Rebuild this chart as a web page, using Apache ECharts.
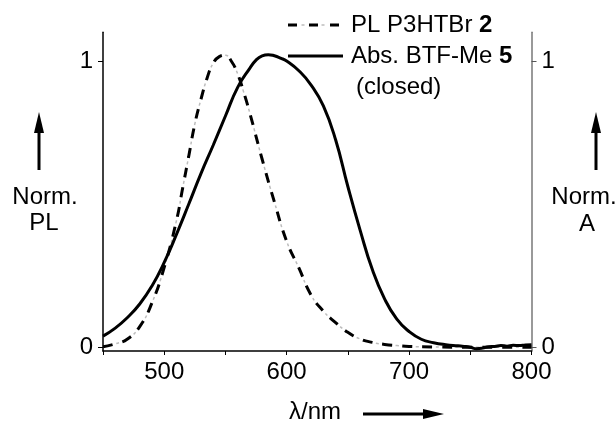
<!DOCTYPE html>
<html>
<head>
<meta charset="utf-8">
<script src="https://cdn.jsdelivr.net/npm/echarts@6/dist/echarts.min.js"></script>
<style>
html,body{margin:0;padding:0;background:#fff;}
#c{width:616px;height:423px;}
</style>
</head>
<body>
<div id="c"></div>
<script>
// Absorption of BTF-Me 5 (closed), normalized
const absWavelength = [450,460,470,480,490,500,510,520,530,540,550,560,570,575,580,585,590,595,600,610,620,630,640,650,660,670,680,690,700,710,720,730,740,745,750,755,760,765,770,775,780,785,790,795,800];
const absValues     = [0.040,0.068,0.105,0.152,0.215,0.297,0.395,0.500,0.607,0.706,0.808,0.908,0.975,1.003,1.018,1.022,1.018,1.010,1.000,0.966,0.916,0.843,0.725,0.562,0.410,0.272,0.170,0.099,0.056,0.029,0.017,0.010,0.006,0.004,0.001,-0.004,-0.002,0.003,0.004,0.007,0.005,0.008,0.007,0.009,0.010];
// PL of P3HTBr 2, normalized
const plWavelength  = [450,460,470,480,490,500,510,515,520,525,530,535,540,545,550,555,560,565,570,580,590,600,610,620,630,640,650,660,670,680,690,700,720,750,800];
const plValues      = [0.003,0.013,0.030,0.073,0.156,0.280,0.443,0.555,0.667,0.780,0.866,0.940,0.992,1.015,1.020,0.998,0.955,0.890,0.817,0.657,0.508,0.371,0.278,0.183,0.127,0.087,0.053,0.030,0.018,0.011,0.007,0.004,0.002,0.001,0.001];
const xTickLabels = [500,600,700,800];
const yTickValues = [0,1];

const absData = absWavelength.map((w,i)=>[w,absValues[i]]);
const plData  = plWavelength.map((w,i)=>[w,plValues[i]]);

const FONT = "'Liberation Sans', Arial, sans-serif";
const chart = echarts.init(document.getElementById('c'), null, {renderer:'canvas'});

const yCommon = {
  type:'value', min:-0.012, max:1.1,
  splitLine:{show:false},
  axisLine:{show:true, onZero:false},
  axisTick:{show:true, inside:false, length:5, customValues:yTickValues},
  axisLabel:{show:true, customValues:yTickValues, fontSize:24, color:'#000', fontFamily:FONT, margin:10}
};

chart.setOption({
  animation:false,
  backgroundColor:'#fff',
  grid:{left:103, right:84.5, top:32.3, bottom:72, containLabel:false},
  xAxis:{
    type:'value', min:450, max:800, interval:50,
    splitLine:{show:false},
    axisLine:{onZero:false, lineStyle:{color:'#000', width:1.5}},
    axisTick:{inside:false, length:4, lineStyle:{color:'#000', width:1}},
    axisLabel:{fontSize:24, color:'#000', fontFamily:FONT, margin:9,
      formatter:v=> xTickLabels.indexOf(v)>=0 ? String(v) : ''}
  },
  yAxis:[
    Object.assign({}, yCommon, {position:'left',
      axisLine:{show:true,onZero:false,lineStyle:{color:'#000',width:1.5}},
      axisTick:Object.assign({}, yCommon.axisTick, {lineStyle:{color:'#000',width:1}})}),
    Object.assign({}, yCommon, {position:'right',
      axisLine:{show:true,onZero:false,lineStyle:{color:'#777',width:1.5}},
      axisTick:Object.assign({}, yCommon.axisTick, {lineStyle:{color:'#555',width:1}})})
  ],
  series:[
    {name:'PL gray', type:'line', data:plData, smooth:0.5, showSymbol:false, silent:true,
      lineStyle:{color:'#bdbdbd', width:1.5, type:[3,17], dashOffset:6.5}},
    {name:'PL P3HTBr 2', type:'line', data:plData, smooth:0.5, showSymbol:false,
      lineStyle:{color:'#000', width:3, type:[10,10]}},
    {name:'Abs. BTF-Me 5', type:'line', data:absData, smooth:0.5, showSymbol:false,
      lineStyle:{color:'#000', width:3, type:'solid'}}
  ],
  graphic:[
    // legend
    {type:'line', shape:{x1:288,y1:25,x2:341,y2:25}, style:{stroke:'#bdbdbd', lineWidth:1.5, lineDash:[3,17], lineDashOffset:6.5}},
    {type:'line', shape:{x1:288,y1:25,x2:341,y2:25}, style:{stroke:'#000', lineWidth:3, lineDash:[9,12]}},
    {type:'text', x:351, y:25, style:{text:'{n|PL P3HTBr }{b|2}', align:'left', verticalAlign:'middle',
      rich:{n:{fontSize:24,fontFamily:FONT,fill:'#000',color:'#000'}, b:{fontSize:24,fontFamily:FONT,fontWeight:'bold',fill:'#000',color:'#000'}}}},
    {type:'line', shape:{x1:288,y1:56,x2:343,y2:56}, style:{stroke:'#000', lineWidth:3}},
    {type:'text', x:351, y:56, style:{text:'{n|Abs. BTF-Me }{b|5}', align:'left', verticalAlign:'middle',
      rich:{n:{fontSize:24,fontFamily:FONT,fill:'#000',color:'#000'}, b:{fontSize:24,fontFamily:FONT,fontWeight:'bold',fill:'#000',color:'#000'}}}},
    {type:'text', x:356, y:87, style:{text:'(closed)', font:'24px '+FONT, fill:'#000', align:'left', verticalAlign:'middle'}},
    // left y label + arrow
    {type:'line', shape:{x1:39,y1:130,x2:39,y2:170}, style:{stroke:'#000', lineWidth:3}},
    {type:'polygon', shape:{points:[[39,112],[34,133],[44,133]]}, style:{fill:'#000'}},
    {type:'text', x:45, y:197, style:{text:'Norm.', font:'24px '+FONT, fill:'#000', align:'center', verticalAlign:'middle'}},
    {type:'text', x:44, y:223, style:{text:'PL', font:'24px '+FONT, fill:'#000', align:'center', verticalAlign:'middle'}},
    // right y label + arrow
    {type:'line', shape:{x1:596,y1:130,x2:596,y2:170}, style:{stroke:'#000', lineWidth:3}},
    {type:'polygon', shape:{points:[[596,112],[591,133],[601,133]]}, style:{fill:'#000'}},
    {type:'text', x:584, y:197, style:{text:'Norm.', font:'24px '+FONT, fill:'#000', align:'center', verticalAlign:'middle'}},
    {type:'text', x:587, y:224, style:{text:'A', font:'24px '+FONT, fill:'#000', align:'center', verticalAlign:'middle'}},
    // x label + arrow
    {type:'text', x:315, y:412, style:{text:'λ/nm', font:'24px '+FONT, fill:'#000', align:'center', verticalAlign:'middle'}},
    {type:'line', shape:{x1:363,y1:414,x2:426,y2:414}, style:{stroke:'#000', lineWidth:3}},
    {type:'polygon', shape:{points:[[444,414],[423,409],[423,419]]}, style:{fill:'#000'}}
  ]
});
</script>
</body>
</html>
